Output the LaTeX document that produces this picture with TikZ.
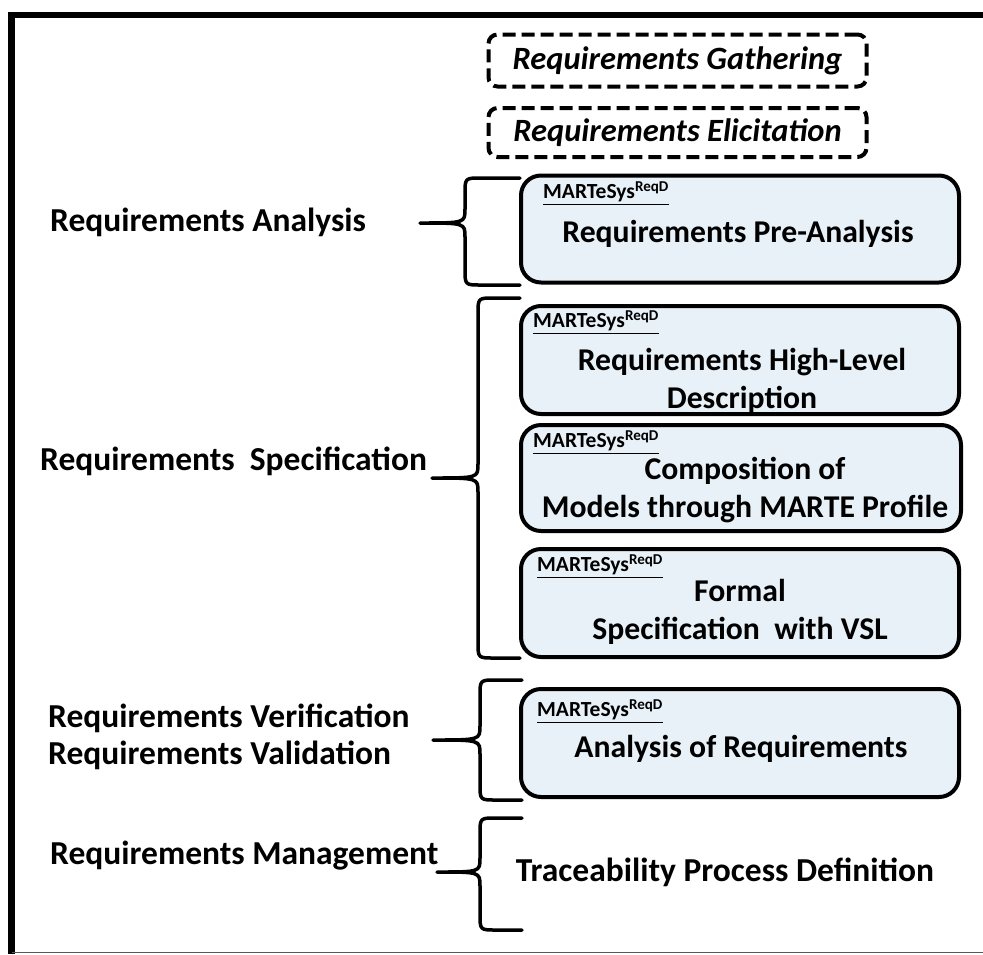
\documentclass[tikz,border=0pt]{standalone}
\usepackage{fontspec}
\setmainfont{Carlito}
\begin{document}
\begin{tikzpicture}[x=1pt,y=-1pt,
  stagebox/.style={draw=black, line width=4pt, rounded corners=20pt, fill=boxblue,
    minimum width=438pt, inner sep=0pt},
  dashbox/.style={draw=black, line width=4pt, rounded corners=9pt,
    dash pattern=on 13pt off 6pt, minimum width=378pt, minimum height=52pt,
    inner sep=0pt, font=\fontsize{32.5}{36}\selectfont\bfseries\itshape},
  phase/.style={anchor=west, inner sep=0pt, align=left,
    font=\fontsize{33.5}{37}\selectfont\bfseries},
  boxtext/.style={inner sep=0pt, align=center,
    font=\fontsize{31.7}{38.5}\selectfont\bfseries},
  tag/.style={anchor=west, inner sep=0pt, font=\fontsize{21.5}{24}\selectfont\bfseries},
  bracestroke/.style={line width=3.5pt, line cap=round, line join=round}
]
\definecolor{boxblue}{HTML}{E7F1F7}
\useasboundingbox (0,0) rectangle (983,954);

% outer frame: heavy top and left rules, thin grey base line
\draw[line width=6.5pt] (11.5,15) -- (983,15);
\draw[line width=6.5pt] (11.5,12) -- (11.5,954);
\draw[line width=1.5pt, black!65] (11.5,952.5) -- (983,952.5);

% brace from (xr,ytop) round to the tip (xt,ymid) and back to (xr,ybot)
\newcommand{\curlybrace}[6]{%
  \draw[bracestroke] (#1,#4) -- ({#2+16},#4) .. controls (#2,#4) .. ({#2},{#4+16})
    -- ({#2},{#5-14}) .. controls ({#2},{#5}) .. (#3,#5)
    .. controls ({#2},{#5}) .. ({#2},{#5+14})
    -- ({#2},{#6-16}) .. controls (#2,#6) .. ({#2+16},#6) -- (#1,#6);}

% optional early stages
\node[dashbox] (gather) at (677.5,60.5) {Requirements Gathering};
\node[dashbox, minimum height=49pt] (elicit) at (677.5,132.5) {Requirements Elicitation};

% MARTeSys stage boxes
\node[stagebox, minimum height=107pt] (pre)  at (740,229) {};
\node[stagebox, minimum height=108pt] (high) at (740,360) {};
\node[stagebox, minimum height=106pt, minimum width=440pt] (comp) at (741,478) {};
\node[stagebox, minimum height=108pt] (form) at (740,603) {};
\node[stagebox, minimum height=108pt] (anal) at (740,743) {};

\node[tag] (tpre)  at (543,193) {\underline{MARTeSys\textsuperscript{ReqD}}};
\node[tag] (thigh) at (533,322) {\underline{MARTeSys\textsuperscript{ReqD}}};
\node[tag] (tcomp) at (533,442) {\underline{MARTeSys\textsuperscript{ReqD}}};
\node[tag] (tform) at (537,566) {\underline{MARTeSys\textsuperscript{ReqD}}};
\node[tag] (tanal) at (537,711) {\underline{MARTeSys\textsuperscript{ReqD}}};

\node[boxtext] (xpre)  at (738,234) {Requirements Pre-Analysis};
\node[boxtext] (xhigh) at (742,381) {Requirements High-Level\\Description};
\node[boxtext] (xcomp) at (745,490) {Composition of\\Models through MARTE Profile};
\node[boxtext] (xform) at (740,612) {Formal\\Specification\ \ with VSL};
\node[boxtext] (xanal) at (741,749) {Analysis of Requirements};
\node[phase, anchor=center] (trace) at (725,872) {Traceability Process Definition};

% process phases on the left
\node[phase] (pA) at (50,222) {Requirements Analysis};
\node[phase] (pS) at (40,461) {Requirements\ \ Specification};
\node[phase] (pV) at (48,736.5) {Requirements Verification\\Requirements Validation};
\node[phase] (pM) at (50,856) {Requirements Management};

% grouping braces
\curlybrace{520}{465}{420}{178}{223}{285}
\curlybrace{520}{478}{432}{298}{478}{658}
\curlybrace{522}{480}{433}{680}{740}{800}
\curlybrace{522}{480}{437}{818}{872}{930}
\end{tikzpicture}
\end{document}
